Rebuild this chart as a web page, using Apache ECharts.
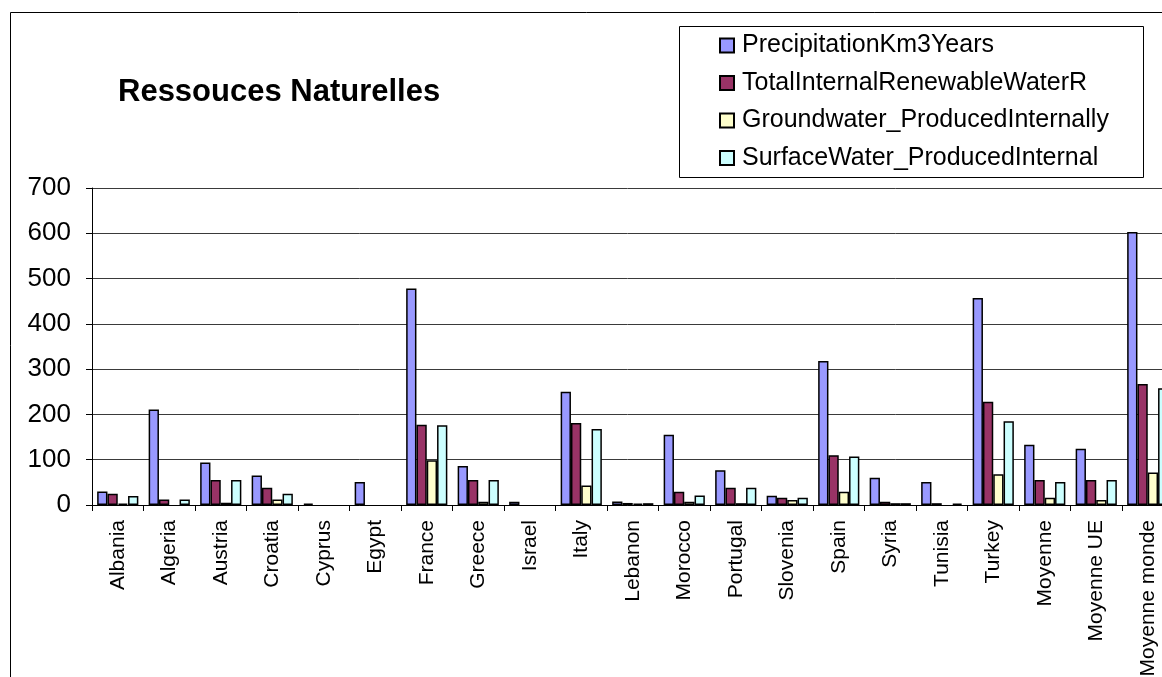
<!DOCTYPE html>
<html>
<head>
<meta charset="utf-8">
<title>Ressouces Naturelles</title>
<script src="https://cdn.jsdelivr.net/npm/echarts@6/dist/echarts.min.js"></script>
<style>
  html, body { margin: 0; padding: 0; background: #fff; }
  #chart { width: 1162px; height: 677px; }
</style>
</head>
<body>
<div id="chart"></div>
<script>
// Countries and averages along the category axis
const categories = ['Albania', 'Algeria', 'Austria', 'Croatia', 'Cyprus', 'Egypt', 'France', 'Greece',
  'Israel', 'Italy', 'Lebanon', 'Morocco', 'Portugal', 'Slovenia', 'Spain', 'Syria', 'Tunisia',
  'Turkey', 'Moyenne', 'Moyenne UE', 'Moyenne monde'];

// Water resources, km3 per year (null = no data)
const precipitation = [30, 211, 94, 65, 3, 51, 478, 86, 7, 250, 7.5, 155, 77, 20.5, 318, 60, 51, 457, 133, 124, 603];
const totalRenewable = [25, 12, 55, 38, null, null, 177, 55, null, 181, 4.5, 29, 38, 16, 110, 7, 4, 228, 55, 55, 267];
const groundwater = [3, null, 5, 12, null, null, 99, 7, null, 43, 3, 7, 4, 11, 29, 4, null, 68, 16, 11, 72];
const surfaceWater = [20, 12, 55, 25, null, null, 176, 55, null, 168, 4, 21, 38, 16, 107, 4, 3, 185, 51, 55, 258];

const yTicks = { min: 0, max: 700, interval: 100 };

const seriesNames = ['PrecipitationKm3Years', 'TotalInternalRenewableWaterR',
  'Groundwater_ProducedInternally', 'SurfaceWater_ProducedInternal'];
const seriesData = [precipitation, totalRenewable, groundwater, surfaceWater];
const colors = ['#9999FF', '#993366', '#FFFFCC', '#CCFFFF'];

const FONT = '"Liberation Sans", Arial, sans-serif';

const chart = echarts.init(document.getElementById('chart'), null, { renderer: 'canvas' });

chart.setOption({
  backgroundColor: '#ffffff',
  animation: false,
  title: {
    text: 'Ressouces Naturelles',
    left: 118,
    top: 77,
    padding: 0,
    textStyle: { fontFamily: FONT, fontSize: 31, fontWeight: 'bold', color: '#000' }
  },
  legend: {
    orient: 'vertical',
    left: 719,
    top: 33,
    padding: 0,
    itemGap: 12.5,
    itemWidth: 14,
    itemHeight: 14,
    icon: 'rect',
    selectedMode: false,
    textStyle: { fontFamily: FONT, fontSize: 25, color: '#000', lineHeight: 25, padding: [0, 0, 0, 3] },
    data: seriesNames
  },
  grid: {
    left: 92,
    top: 188,
    bottom: 172,
    width: 1081.5,
    containLabel: false,
    outerBoundsMode: 'none'
  },
  xAxis: {
    type: 'category',
    data: categories,
    axisLine: { show: true, lineStyle: { color: '#000', width: 1 } },
    axisTick: { show: true, length: 6, lineStyle: { color: '#000' } },
    axisLabel: {
      rotate: 90,
      margin: 15,
      interval: 0,
      fontFamily: FONT,
      fontSize: 21,
      color: '#000'
    },
    splitLine: { show: false }
  },
  yAxis: {
    type: 'value',
    min: yTicks.min,
    max: yTicks.max,
    interval: yTicks.interval,
    axisLine: { show: true, lineStyle: { color: '#000', width: 1 } },
    axisTick: { show: true, length: 6, lineStyle: { color: '#000' } },
    axisLabel: { margin: 21, fontFamily: FONT, fontSize: 26, color: '#000' },
    splitLine: { show: true, lineStyle: { color: '#3a3a3a', width: 1 } }
  },
  series: seriesNames.map((name, i) => ({
    name: name,
    type: 'bar',
    data: seriesData[i],
    barGap: '0%',
    barCategoryGap: '20%',
    itemStyle: { color: colors[i], borderColor: '#000', borderWidth: 1.5 }
  })),
  graphic: [
    {
      type: 'rect',
      silent: true,
      shape: { x: 10.5, y: 12.5, width: 1200, height: 700 },
      style: { fill: 'none', stroke: '#000', lineWidth: 1 },
      z: -1
    },
    {
      type: 'rect',
      silent: true,
      shape: { x: 679.5, y: 26.5, width: 464, height: 151 },
      style: { fill: '#fff', stroke: '#000', lineWidth: 1 },
      z: 0
    }
  ]
});
</script>
</body>
</html>
